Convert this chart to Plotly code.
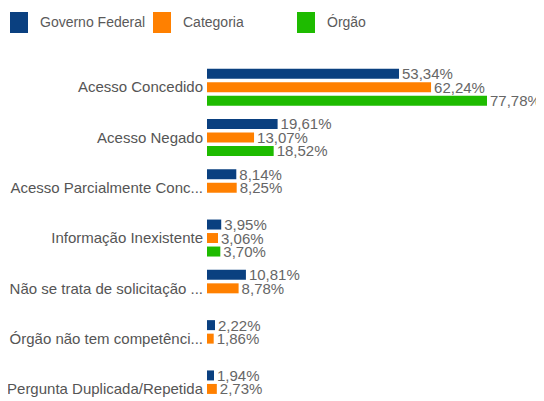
import plotly.graph_objects as go

categories = [
    "Acesso Concedido",
    "Acesso Negado",
    "Acesso Parcialmente Conc...",
    "Informação Inexistente",
    "Não se trata de solicitação ...",
    "Órgão não tem competênci...",
    "Pergunta Duplicada/Repetida",
]
governo_federal = [53.34, 19.61, 8.14, 3.95, 10.81, 2.22, 1.94]
categoria = [62.24, 13.07, 8.25, 3.06, 8.78, 1.86, 2.73]
orgao = [77.78, 18.52, None, 3.70, None, None, None]

series_names = ["Governo Federal", "Categoria", "Órgão"]
series_values = [governo_federal, categoria, orgao]
series_colors = ["#0a4080", "#ff8000", "#1ebb00"]


def fmt(v):
    if v is None:
        return ""
    return f"{v:.2f}".replace(".", ",") + "%"


# page body has an 8px margin, so the figure frame is offset by 8px
OFF = 8
W, H = 544 - OFF, 401 - OFF
ML, MT = 207 - OFF, 62 - OFF
pw = W - ML
ph = H - MT
FONT = "Liberation Sans, Arial, sans-serif"

fig = go.Figure()
for name, vals, color in zip(series_names, series_values, series_colors):
    fig.add_trace(go.Bar(
        y=categories, x=vals, name=name, orientation="h",
        marker=dict(color=color, line=dict(width=0)),
        text=[fmt(v) for v in vals], textposition="outside",
        textfont=dict(family=FONT, size=15, color="#666666"),
        constraintext="none", cliponaxis=False,
        hoverinfo="skip", showlegend=False,
    ))


# custom legend (screen pixel positions converted to paper coords)
def px_x(px):
    return (px - OFF - ML) / pw


def px_y(py):
    return 1 - (py - OFF - MT) / ph


legend_x = [10, 153, 297]
shapes = []
annotations = []
for lx, name, color in zip(legend_x, series_names, series_colors):
    shapes.append(dict(type="rect", xref="paper", yref="paper",
                       x0=px_x(lx), x1=px_x(lx + 18), y0=px_y(33), y1=px_y(12),
                       fillcolor=color, line=dict(width=0)))
    annotations.append(dict(xref="paper", yref="paper", x=px_x(lx + 28), y=px_y(22),
                            xanchor="left", yanchor="middle", text=name, showarrow=False,
                            font=dict(family=FONT, size=14, color="#5a5a5a")))

fig.update_layout(
    width=W, height=H,
    margin=dict(l=ML, r=0, t=MT, b=0, pad=0, autoexpand=False),
    paper_bgcolor="white", plot_bgcolor="white",
    barmode="group", bargap=0.195, bargroupgap=0.26,
    font=dict(family=FONT, size=15, color="#555555"),
    showlegend=False,
    shapes=shapes, annotations=annotations,
    xaxis=dict(range=[0, pw / 3.6], showgrid=False, zeroline=False,
               showticklabels=False, showline=False, fixedrange=True, automargin=False),
    yaxis=dict(range=[6.24, -0.5], showgrid=False, zeroline=False,
               showline=False, ticks="", ticklabelstandoff=3, automargin=False,
               tickfont=dict(family=FONT, size=15, color="#555555")),
)

fig.write_html("out.html")
